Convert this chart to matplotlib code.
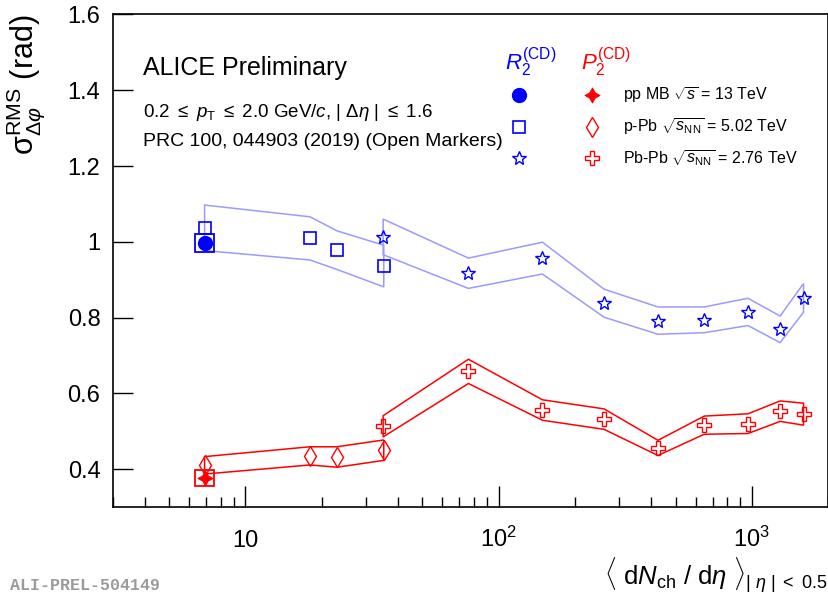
import numpy as np
import matplotlib
matplotlib.use('Agg')
import matplotlib.pyplot as plt
from matplotlib.patches import Rectangle
from matplotlib.ticker import FixedLocator, FixedFormatter, NullFormatter, LogLocator, FuncFormatter

plt.rcParams['font.family'] = ['Liberation Sans', 'DejaVu Sans']
plt.rcParams['mathtext.fontset'] = 'custom'
plt.rcParams['mathtext.rm'] = 'Liberation Sans'
plt.rcParams['mathtext.it'] = 'Liberation Sans:italic'
plt.rcParams['mathtext.bf'] = 'Liberation Sans:bold'
plt.rcParams['mathtext.sf'] = 'Liberation Sans'

# ---------------- data ----------------
# pp MB sqrt(s) = 13 TeV
pp_x = np.array([6.9])
pp_r2 = np.array([0.996])
pp_r2_sys = np.array([0.024])
pp_p2 = np.array([0.376])
pp_p2_sys = np.array([0.021])

# p-Pb sqrt(sNN) = 5.02 TeV
ppb_x = np.array([6.9, 18.0, 23.0, 35.2])
ppb_r2 = np.array([1.037, 1.009, 0.978, 0.936])
ppb_r2_sys = np.array([0.060, 0.057, 0.051, 0.055])
ppb_p2 = np.array([0.410, 0.435, 0.432, 0.450])
ppb_p2_sys = np.array([0.023, 0.024, 0.027, 0.027])

# Pb-Pb sqrt(sNN) = 2.76 TeV
pbpb_x = np.array([35, 76, 149, 261, 426, 649, 966, 1294, 1601])
pbpb_r2 = np.array([1.013, 0.917, 0.957, 0.838, 0.792, 0.794, 0.815, 0.769, 0.852])
pbpb_r2_sys = np.array([0.047, 0.040, 0.042, 0.037, 0.036, 0.034, 0.036, 0.035, 0.038])
pbpb_p2 = np.array([0.513, 0.658, 0.556, 0.532, 0.456, 0.516, 0.520, 0.553, 0.545])
pbpb_p2_sys = np.array([0.028, 0.032, 0.027, 0.027, 0.020, 0.024, 0.026, 0.027, 0.029])

x_tick_vals = [10, 100, 1000]
x_tick_labels = ['10', r'$10^{2}$', r'$10^{3}$']
y_tick_vals = [0.4, 0.6, 0.8, 1.0, 1.2, 1.4, 1.6]

legend_labels = [r'pp MB $\sqrt{s}$ = 13 TeV',
                 r'p-Pb $\sqrt{s_{\rm NN}}$ = 5.02 TeV',
                 r'Pb-Pb $\sqrt{s_{\rm NN}}$ = 2.76 TeV']

# ---------------- style ----------------
BLUE = '#0000ff'
BAND_BLUE = '#9a9aff'
RED = '#ff0000'
BOX_DEX = 0.037

fig = plt.figure(figsize=(8.29, 5.99), dpi=100)
ax = fig.add_axes([113/829, 92/599, 715/829, 492.5/599])
ax.set_xscale('log')
ax.set_xlim(3, 2000)
ax.set_ylim(0.3, 1.6)


def band(x, y, s, color, lw=1.1):
    xp = np.concatenate([x, x[::-1]])
    yp = np.concatenate([y + s, (y - s)[::-1]])
    ax.fill(xp, yp, fill=False, edgecolor=color, lw=lw, zorder=2)


def boxes(x, y, s, color):
    for xi, yi, si in zip(x, y, s):
        x0 = xi * 10 ** (-BOX_DEX)
        w = xi * (10 ** BOX_DEX - 10 ** (-BOX_DEX))
        ax.add_patch(Rectangle((x0, yi - si), w, 2 * si, fill=False,
                               edgecolor=color, lw=1.3, zorder=2))


band(ppb_x, ppb_r2, ppb_r2_sys, BAND_BLUE)
band(pbpb_x, pbpb_r2, pbpb_r2_sys, BAND_BLUE)
band(ppb_x, ppb_p2, ppb_p2_sys, RED)
band(pbpb_x, pbpb_p2, pbpb_p2_sys, RED)
boxes(pp_x, pp_r2, pp_r2_sys, BLUE)
boxes(pp_x, pp_p2, pp_p2_sys, RED)

star4 = (4, 1, 0)
st_pp_r2 = dict(marker='o', ms=10, mfc=BLUE, mec=BLUE)
st_ppb_r2 = dict(marker='s', ms=8.5, mfc='none', mec=BLUE, mew=1.2)
st_pbpb_r2 = dict(marker='*', ms=10.5, mfc='none', mec=BLUE, mew=1.0)
st_pp_p2 = dict(marker=star4, ms=11, mfc=RED, mec=RED, mew=0.6)
st_ppb_p2 = dict(marker='d', ms=10.5, mfc='none', mec=RED, mew=1.0)
st_pbpb_p2 = dict(marker='P', ms=9.5, mfc='none', mec=RED, mew=1.0)

ax.plot(pp_x, pp_r2, ls='none', zorder=4, **st_pp_r2)
ax.plot(ppb_x, ppb_r2, ls='none', zorder=4, **st_ppb_r2)
ax.plot(pbpb_x, pbpb_r2, ls='none', zorder=4, **st_pbpb_r2)
ax.plot(pp_x, pp_p2, ls='none', zorder=4, **st_pp_p2)
ax.plot(ppb_x, ppb_p2, ls='none', zorder=4, **st_ppb_p2)
ax.plot(pbpb_x, pbpb_p2, ls='none', zorder=4, **st_pbpb_p2)

# ---------------- axes ----------------
ax.xaxis.set_major_locator(FixedLocator(x_tick_vals))
ax.xaxis.set_major_formatter(FixedFormatter(x_tick_labels))
ax.xaxis.set_minor_locator(LogLocator(base=10, subs=np.arange(2, 10)))
ax.xaxis.set_minor_formatter(NullFormatter())
ax.set_yticks(y_tick_vals)
ax.yaxis.set_major_formatter(FuncFormatter(lambda v, p: '%g' % v))

ax.tick_params(axis='x', which='major', direction='in', length=15, width=1.0,
               top=False, labelsize=17, pad=28.5)
ax.tick_params(axis='x', which='minor', direction='in', length=7.5, width=1.0, top=False)
ax.tick_params(axis='y', which='major', direction='in', length=14.5, width=1.0,
               right=False, labelsize=17, pad=9)
ax.tick_params(axis='y', which='minor', left=False, right=False)
for t in ax.xaxis.get_major_ticks():
    t.label1.set_verticalalignment('baseline')
for sp in ax.spines.values():
    sp.set_linewidth(1.2)

ax.set_xlabel(r'$\langle\ \mathrm{d}N_{\mathrm{ch}}\ /\ \mathrm{d}\eta\ \rangle_{|\ \eta\ |\ <\ 0.5}$',
              fontsize=18.5, loc='right')
ax.xaxis.set_label_coords(1.0, -0.097)
ax.set_ylabel(r'$\mathrm{\sigma}^{\mathrm{RMS}}_{\Delta\varphi}$ (rad)', fontsize=22, loc='top')
ax.yaxis.set_label_coords(-0.092, 1.0)

# ---------------- texts ----------------
ax.text(0.042, 0.891, 'ALICE Preliminary', transform=ax.transAxes, fontsize=18,
        va='center', ha='left')
ax.text(0.042, 0.800, r'0.2 $\leq$ $p_{\rm T}$ $\leq$ 2.0 GeV/$c$, | $\Delta\eta$ | $\leq$ 1.6',
        transform=ax.transAxes, fontsize=13.5, va='center', ha='left')
ax.text(0.042, 0.742, 'PRC 100, 044903 (2019) (Open Markers)', transform=ax.transAxes,
        fontsize=14, va='center', ha='left')

# legend headers
ax.text(0.548, 0.903, r'$R_{2}^{\rm (CD)}$', color=BLUE, fontsize=16,
        transform=ax.transAxes, va='center', ha='left')
ax.text(0.654, 0.903, r'$P_{2}^{\rm (CD)}$', color=RED, fontsize=16,
        transform=ax.transAxes, va='center', ha='left')

rows = [0.8365, 0.7716, 0.7086]
lx_b, lx_r, lx_t = 0.568, 0.670, 0.713
leg_blue = [st_pp_r2, st_ppb_r2, st_pbpb_r2]
leg_red = [st_pp_p2, st_ppb_p2, st_pbpb_p2]
for ry, kb, kr, lab in zip(rows, leg_blue, leg_red, legend_labels):
    ax.plot([lx_b], [ry], transform=ax.transAxes, clip_on=False, ls='none', **kb)
    ax.plot([lx_r], [ry], transform=ax.transAxes, clip_on=False, ls='none', **kr)
    ax.text(lx_t, ry, lab, transform=ax.transAxes, fontsize=11.5, va='center', ha='left')

fig.text(10/829, 1 - 586/599, 'ALI-PREL-504149', family='Liberation Mono', weight='bold',
         color='#9a9a9a', fontsize=12, va='center', ha='left')

fig.savefig('out.png', dpi=100)
